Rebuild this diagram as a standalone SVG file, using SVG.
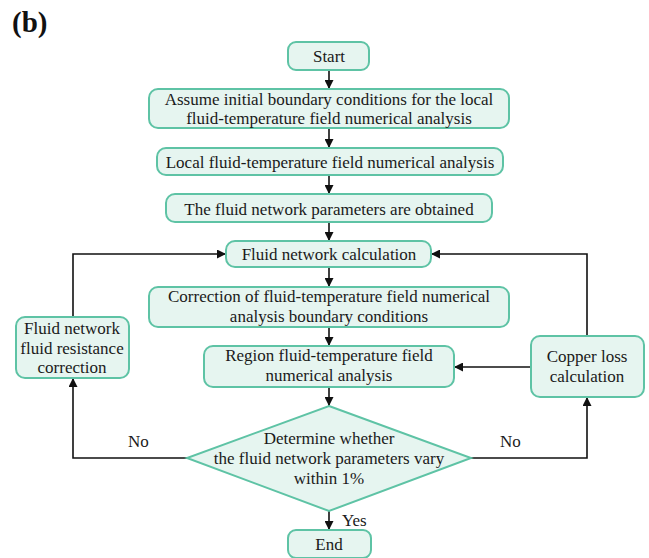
<svg xmlns="http://www.w3.org/2000/svg" width="649" height="558" viewBox="0 0 649 558">
<style>
.box{fill:#e6f5f0;stroke:#5ec3a5;stroke-width:2}
.t{font-family:"Liberation Serif","Times New Roman",serif;font-size:17px;fill:#1a1a1a;text-anchor:middle}
.lbl{font-family:"Liberation Serif","Times New Roman",serif;font-size:17px;fill:#1a1a1a}
.c{fill:none;stroke:#111;stroke-width:1.6}
</style>
<defs>
<marker id="ah" viewBox="0 0 10 10" refX="10" refY="5" markerWidth="9" markerHeight="9" markerUnits="userSpaceOnUse" orient="auto">
<path d="M0,0 L10,5 L0,10 z" fill="#111"/>
</marker>
</defs>
<rect width="649" height="558" fill="#fff"/>
<text x="12" y="32" style="font-family:'Liberation Serif','Times New Roman',serif;font-size:29px;font-weight:bold;fill:#111">(b)</text>

<g id="connectors">
<path class="c" d="M329,70 V89" marker-end="url(#ah)"/>
<path class="c" d="M329,128 V148" marker-end="url(#ah)"/>
<path class="c" d="M329,175 V194" marker-end="url(#ah)"/>
<path class="c" d="M329,222 V241" marker-end="url(#ah)"/>
<path class="c" d="M329,267 V287" marker-end="url(#ah)"/>
<path class="c" d="M329,327 V346" marker-end="url(#ah)"/>
<path class="c" d="M329,387 V406" marker-end="url(#ah)"/>
<path class="c" d="M329,511 V530" marker-end="url(#ah)"/>
<path class="c" d="M187,458 H73 V378" marker-end="url(#ah)"/>
<path class="c" d="M73,317 V254 H226" marker-end="url(#ah)"/>
<path class="c" d="M471,458 H587 V397" marker-end="url(#ah)"/>
<path class="c" d="M587,336 V254 H431" marker-end="url(#ah)"/>
<path class="c" d="M531,367 H454" marker-end="url(#ah)"/>
<text class="lbl" x="128" y="447">No</text>
<text class="lbl" x="500" y="447">No</text>
<text class="lbl" x="342" y="526">Yes</text>
</g>

<g id="start">
<rect class="box" x="288" y="42" width="81" height="28" rx="8"/>
<text class="t" x="329" y="62">Start</text>
</g>
<g id="assume">
<rect class="box" x="149" y="89" width="360" height="39" rx="9"/>
<text class="t" x="329" y="105">Assume initial boundary conditions for the local</text>
<text class="t" x="329" y="124">fluid-temperature field numerical analysis</text>
</g>
<g id="local">
<rect class="box" x="157" y="148" width="346" height="27" rx="9"/>
<text class="t" x="330" y="168">Local fluid-temperature field numerical analysis</text>
</g>
<g id="params">
<rect class="box" x="166" y="194" width="326" height="28" rx="9"/>
<text class="t" x="329" y="215">The fluid network parameters are obtained</text>
</g>
<g id="fluidcalc">
<rect class="box" x="226" y="241" width="205" height="26" rx="9"/>
<text class="t" x="329" y="260">Fluid network calculation</text>
</g>
<g id="correction">
<rect class="box" x="149" y="287" width="360" height="40" rx="9"/>
<text class="t" x="329" y="302">Correction of fluid-temperature field numerical</text>
<text class="t" x="329" y="322">analysis boundary conditions</text>
</g>
<g id="region">
<rect class="box" x="204" y="346" width="250" height="41" rx="9"/>
<text class="t" x="329" y="361">Region fluid-temperature field</text>
<text class="t" x="329" y="381">numerical analysis</text>
</g>
<g id="decision">
<polygon class="box" points="329,406 471,458 329,511 187,458"/>
<text class="t" x="329" y="444">Determine whether</text>
<text class="t" x="329" y="464">the fluid network parameters vary</text>
<text class="t" x="329" y="484">within 1%</text>
</g>
<g id="end">
<rect class="box" x="288" y="530" width="83" height="28" rx="8"/>
<text class="t" x="329" y="550">End</text>
</g>
<g id="resistance">
<rect class="box" x="16" y="317" width="113" height="61" rx="9"/>
<text class="t" x="72" y="334">Fluid network</text>
<text class="t" x="72" y="354">fluid resistance</text>
<text class="t" x="72" y="373">correction</text>
</g>
<g id="copper">
<rect class="box" x="531" y="336" width="113" height="61" rx="9"/>
<text class="t" x="587" y="362">Copper loss</text>
<text class="t" x="587" y="382">calculation</text>
</g>
</svg>
